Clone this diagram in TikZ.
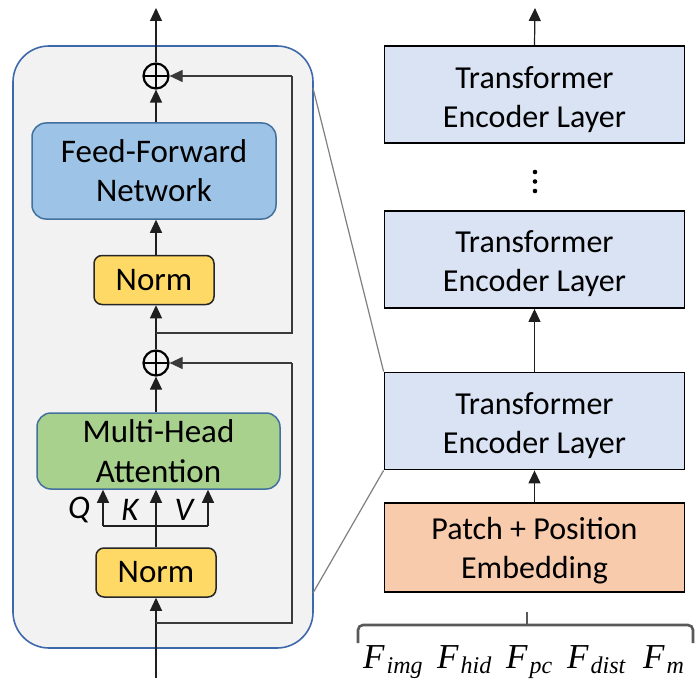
\documentclass[tikz,border=0pt]{standalone}
\usepackage{fontspec}
\setmainfont{Carlito}
\newfontfamily\tnr{Liberation Serif}
\usetikzlibrary{arrows.meta}

\definecolor{panelfill}{HTML}{F2F2F2}
\definecolor{paneldraw}{HTML}{3E68AC}
\definecolor{ffnfill}{HTML}{9DC3E6}
\definecolor{mhafill}{HTML}{A9D18E}
\definecolor{blockdraw}{HTML}{41719C}
\definecolor{normfill}{HTML}{FFD966}
\definecolor{encfill}{HTML}{DAE3F3}
\definecolor{embfill}{HTML}{F8CBAD}
\definecolor{linecol}{HTML}{1F1F1F}
\definecolor{skipcol}{HTML}{3A3A3A}
\definecolor{zoomcol}{HTML}{7F7F7F}
\definecolor{bracecol}{HTML}{595959}

% F label: italic Times-like letter with lowered subscript
\newcommand{\flabel}[1]{{\tnr\itshape\fontsize{35}{40}\selectfont F\kern2pt\raisebox{-5pt}{\fontsize{24}{28}\selectfont #1}}}
% strut on a first line, to place two-line labels within their boxes
\newcommand{\topline}[1]{\rule{0pt}{#1pt}}

\begin{document}
\begin{tikzpicture}[x=1pt,y=-1pt,
  boxtext/.style={align=center, inner sep=0pt, font=\fontsize{33}{39}\selectfont},
  encbox/.style={boxtext, draw=black, line width=1.8pt, fill=encfill,
    minimum width=300pt, minimum height=97pt, font=\fontsize{32}{39}\selectfont},
  embbox/.style={encbox, fill=embfill, minimum height=89pt},
  ffnbox/.style={boxtext, draw=blockdraw, line width=1.5pt, fill=ffnfill,
    rounded corners=14pt, minimum width=244pt, minimum height=96pt},
  mhabox/.style={ffnbox, fill=mhafill, minimum width=243pt, minimum height=76pt,
    font=\fontsize{33}{40}\selectfont},
  normbox/.style={boxtext, draw=black!85, line width=1.5pt, fill=normfill,
    rounded corners=8pt, minimum width=120pt, minimum height=49pt},
  addnode/.style={circle, draw=black, line width=2.2pt, minimum size=25pt, inner sep=0pt,
    path picture={\draw[line width=2pt]
      (path picture bounding box.north) -- (path picture bounding box.south)
      (path picture bounding box.west) -- (path picture bounding box.east);}},
  arr/.style={-{Triangle[length=13pt,width=12pt]}, line width=1.2pt, draw=linecol},
  skip/.style={line width=1.1pt, draw=skipcol},
  qkv/.style={inner sep=0pt, font=\itshape\fontsize{33}{36}\selectfont},
  dotnode/.style={circle, fill=black, inner sep=0pt, minimum size=4.6pt},
]
\useasboundingbox (0,0) rectangle (697,685);

% ---------- encoder block detail (left) ----------
\node[draw=paneldraw, fill=panelfill, line width=1.6pt, rounded corners=36pt,
      minimum width=300pt, minimum height=602pt, inner sep=0pt] (panel) at (163,347) {};

\node[normbox] (norm1) at (156,572.5) {Norm};
\node[mhabox]  (mha)   at (158.5,451) {Multi-Head\\Attention};
\node[addnode] (add1)  at (156,363) {};
\node[normbox] (norm2) at (154,280) {Norm};
\node[ffnbox]  (ffn)   at (154,171) {Feed-Forward\\Network};
\node[addnode] (add2)  at (156,76) {};

\node[qkv] (q) at (79,510) {Q};
\node[qkv] (k) at (130,510) {K};
\node[qkv] (v) at (184,510) {V};

\coordinate (in)    at (156,678);
\coordinate (out)   at (156,8);
\coordinate (br1)   at (156,623);
\coordinate (br1r)  at (292,623);
\coordinate (add1r) at (292,363);
\coordinate (br2)   at (156,333);
\coordinate (br2r)  at (292,333);
\coordinate (add2r) at (292,76);
\coordinate (qb)    at (103,526);
\coordinate (kb)    at (156,526);
\coordinate (vb)    at (208,526);

% main path
\draw[arr] (in) -- (norm1.south);
\draw[line width=1.2pt, draw=linecol] (norm1.north) -- (kb);
\draw[line width=1.2pt, draw=linecol] (qb) -- (vb);
\draw[arr] (kb) -- (kb |- mha.south);
\draw[arr] (qb) -- (qb |- mha.south);
\draw[arr] (vb) -- (vb |- mha.south);
\draw[arr] (mha.north -| add1) -- (add1.south);
\draw[arr] (add1.north) -- (add1.north |- norm2.south);
\draw[arr] (norm2.north -| add1) -- (ffn.south -| add1);
\draw[arr] (ffn.north -| add2) -- (add2.south);
\draw[arr] (add2.north) -- (out);

% residual connections
\draw[skip] (br1) -- (br1r) -- (add1r);
\draw[arr, skip] (add1r) -- (add1.east);
\draw[skip] (br2) -- (br2r) -- (add2r);
\draw[arr, skip] (add2r) -- (add2.east);

% ---------- encoder stack (right) ----------
\node[embbox] (emb)  at (534.5,547.5) {\topline{28}Patch + Position\\Embedding};
\node[encbox] (enc1) at (534.5,421)   {\topline{31}Transformer\\Encoder Layer};
\node[encbox] (enc2) at (534.5,259.5) {\topline{31}Transformer\\Encoder Layer};
\node[encbox] (enc3) at (534.5,94.5)  {\topline{32}Transformer\\Encoder Layer};
\coordinate (out2) at (535,8);

\node[dotnode] (d1) at (535,172) {};
\node[dotnode] (d2) at (535,181.5) {};
\node[dotnode] (d3) at (535,191) {};

\draw[arr] (emb.north) -- (enc1.south);
\draw[arr] (enc1.north) -- (enc2.south);
\draw[arr] (enc3.north) -- (out2);

% zoom lines from the detail panel to the first layer
\coordinate (ztop) at (313,88);
\coordinate (zbot) at (313,593);
\draw[zoomcol, line width=1.2pt] (ztop) -- (enc1.north west);
\draw[zoomcol, line width=1.2pt] (zbot) -- (enc1.south west);

% ---------- input features ----------
\coordinate (brl)  at (358,643);
\coordinate (brm)  at (527,625);
\coordinate (brt)  at (527,612);
\coordinate (brr)  at (693,643);
\draw[bracecol, line width=2.6pt, rounded corners=5pt]
  (brl) -- (brl |- brm) -- (brm) -- (brr |- brm) -- (brr);
\draw[bracecol, line width=2.6pt] (brm) -- (brt);

\node[anchor=base west, inner sep=0pt] (fimg)  at (363,668) {\flabel{img}};
\node[anchor=base west, inner sep=0pt] (fhid)  at (437,668) {\flabel{hid}};
\node[anchor=base west, inner sep=0pt] (fpc)   at (506,668) {\flabel{pc}};
\node[anchor=base west, inner sep=0pt] (fdist) at (567,668) {\flabel{dist}};
\node[anchor=base west, inner sep=0pt] (fm)    at (643,668) {\flabel{m}};
\end{tikzpicture}
\end{document}
